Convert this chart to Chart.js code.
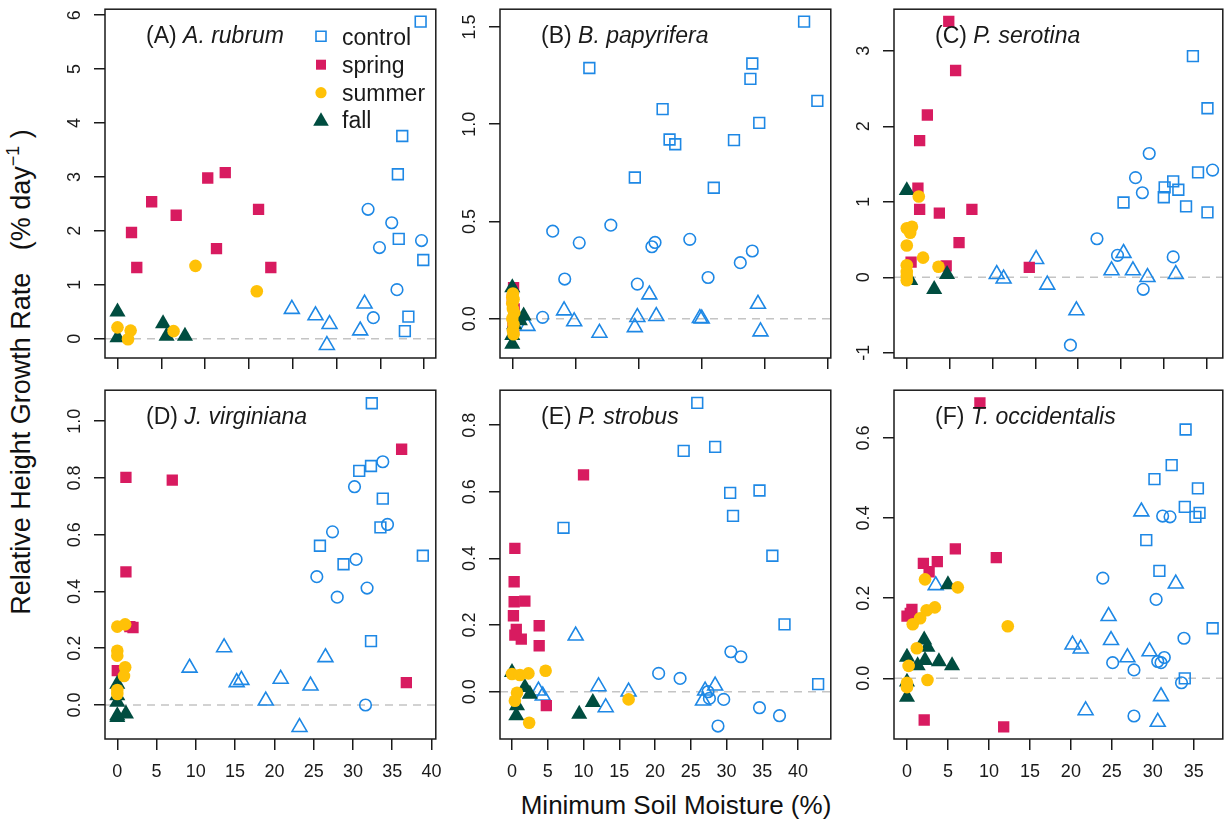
<!DOCTYPE html>
<html>
<head>
<meta charset="utf-8">
<script src="https://cdn.jsdelivr.net/npm/chart.js@4.4.1/dist/chart.umd.min.js"></script>
<style>
  html, body { margin: 0; padding: 0; background: #fff; }
  #wrap { position: relative; width: 1225px; height: 825px; overflow: hidden;
          font-family: "Liberation Sans", Arial, Helvetica, sans-serif; color: #111; }
  #wrap canvas { position: absolute; }
  #ytitle { position: absolute; left: 23px; top: 372px; white-space: nowrap; font-size: 27px; line-height: 27px;
            transform: translate(-50%, -50%) rotate(-90deg); }
  #ytitle .sup { font-size: 18px; position: relative; top: -11px; }
  #xtitle { position: absolute; left: 676px; top: 805px; white-space: nowrap; font-size: 26px; line-height: 26px;
            transform: translate(-50%, -50%); }
</style>
</head>
<body>
<div id="wrap">
  <div id="ytitle">Relative Height Growth Rate&nbsp;&nbsp;&nbsp;(% day<span class="sup">−1</span> )</div>
  <div id="xtitle">Minimum Soil Moisture (%)</div>
</div>
<script>
// ---- (A) A. rubrum ----
const aCtrlSq = [[34.6,5.88],[32.5,3.76],[32.0,3.05],[32.1,1.85],[34.9,1.46],[33.2,0.41],[32.8,0.14]];
const aCtrlCi = [[28.6,2.40],[31.3,2.15],[29.9,1.69],[34.7,1.82],[31.9,0.91],[29.2,0.39]];
const aCtrlTr = [[19.9,0.55],[22.6,0.43],[24.2,0.27],[23.9,-0.12],[28.2,0.65],[27.7,0.15]];
const aSpring = [[1.6,1.97],[2.2,1.32],[3.9,2.54],[6.7,2.29],[10.3,2.98],[12.3,3.08],[11.3,1.67],[16.1,2.40],[17.5,1.32]];
const aSummer = [[8.9,1.35],[15.9,0.88],[0.0,0.21],[1.5,0.15],[1.2,-0.01],[6.4,0.14]];
const aFall   = [[0.0,0.50],[0.0,0.02],[5.2,0.28],[5.6,0.05],[7.7,0.05]];

// ---- (B) B. papyrifera ----
const bCtrlSq = [[46.2,1.527],[12.2,1.289],[38.0,1.312],[37.7,1.233],[48.3,1.120],[23.8,1.077],[39.1,1.007],[24.9,0.921],[25.8,0.897],[35.1,0.918],[19.4,0.726],[31.9,0.673]];
const bCtrlCi = [[6.4,0.450],[10.6,0.390],[15.6,0.481],[8.3,0.204],[19.8,0.178],[22.1,0.370],[22.6,0.392],[28.1,0.408],[31.0,0.212],[36.1,0.288],[38.0,0.348],[4.8,0.007]];
const bCtrlTr = [[8.2,0.042],[9.8,-0.014],[13.8,-0.073],[2.4,-0.038],[19.8,0.008],[19.4,-0.044],[21.7,0.124],[22.8,0.013],[29.7,0.003],[30.0,0.0],[38.9,0.076],[39.3,-0.066]];
const bSpring = [[0.2,0.160],[0.0,0.100],[0.3,0.050],[0.1,-0.020],[0.2,-0.060]];
const bSummer = [[0.1,0.130],[0.2,0.100],[0.0,0.080],[0.1,0.050],[0.3,0.030],[0.0,0.000],[0.2,-0.030],[0.1,-0.060],[0.2,-0.080],[0.0,0.110]];
const bFall   = [[0.0,0.160],[0.0,-0.130],[1.8,0.015],[0.3,-0.030],[0.0,-0.085],[1.2,-0.010]];

// ---- (C) P. serotina ----
const cCtrlSq = [[33.4,2.93],[35.1,2.24],[34.0,1.39],[35.1,0.86],[25.3,0.99],[30.1,1.19],[30.0,1.06],[31.1,1.27],[31.7,1.16],[32.6,0.94]];
const cCtrlCi = [[28.3,1.64],[26.7,1.32],[27.5,1.12],[35.7,1.42],[22.2,0.51],[24.6,0.29],[31.1,0.27],[27.6,-0.16],[19.1,-0.90]];
const cCtrlTr = [[15.1,0.24],[10.5,0.04],[11.3,-0.02],[16.4,-0.10],[19.8,-0.44],[23.9,0.09],[25.3,0.32],[26.4,0.09],[28.1,0.00],[31.4,0.04]];
const cSpring = [[4.9,3.39],[5.7,2.74],[2.4,2.15],[1.5,1.81],[1.3,1.18],[1.5,0.90],[3.8,0.85],[7.6,0.90],[6.1,0.46],[0.5,0.20],[4.6,0.15],[14.3,0.13]];
const cSummer = [[1.4,1.07],[0.0,0.65],[0.6,0.67],[0.4,0.59],[0.0,0.42],[1.9,0.26],[3.7,0.14],[0.0,0.16],[0.0,0.07],[0.0,-0.04],[0.0,0.02]];
const cFall   = [[0.0,1.15],[0.4,-0.04],[3.2,-0.16],[4.7,0.04]];

// ---- (D) J. virginiana ----
const dCtrlSq = [[32.4,1.063],[30.8,0.825],[32.3,0.842],[33.8,0.727],[33.5,0.626],[25.8,0.561],[28.8,0.496],[38.9,0.526],[32.3,0.225]];
const dCtrlCi = [[30.2,0.769],[33.8,0.857],[27.4,0.610],[34.4,0.636],[30.4,0.513],[25.4,0.452],[28.0,0.380],[31.8,0.412],[31.6,0.000]];
const dCtrlTr = [[9.2,0.131],[13.6,0.203],[15.2,0.080],[15.8,0.088],[18.9,0.015],[20.8,0.092],[24.6,0.068],[26.5,0.168],[23.2,-0.078]];
const dSpring = [[1.1,0.802],[7.0,0.792],[1.1,0.469],[1.6,0.276],[2.0,0.273],[0.0,0.121],[36.2,0.901],[36.8,0.079]];
const dSummer = [[0.0,0.276],[1.0,0.284],[0.0,0.191],[0.0,0.174],[1.0,0.133],[0.85,0.102],[0.0,0.053],[0.0,0.039]];
const dFall   = [[0.0,0.074],[0.0,0.033],[0.0,0.010],[0.0,-0.037],[1.1,-0.031],[0.0,-0.043]];

// ---- (E) P. strobus ----
const eCtrlSq = [[25.9,0.867],[24.0,0.723],[28.4,0.735],[30.5,0.597],[34.6,0.604],[30.9,0.528],[36.4,0.408],[38.1,0.202],[42.8,0.023],[7.2,0.492]];
const eCtrlCi = [[20.5,0.055],[23.5,0.040],[30.6,0.120],[32.0,0.105],[29.6,-0.023],[27.6,-0.020],[34.6,-0.048],[37.4,-0.072],[28.8,-0.103],[27.4,0.000]];
const eCtrlTr = [[8.9,0.168],[12.1,0.016],[13.1,-0.047],[16.3,0.000],[3.7,0.003],[4.3,-0.012],[27.0,0.003],[28.4,0.018],[26.7,-0.027]];
const eSpring = [[0.4,0.430],[0.3,0.330],[0.3,0.270],[1.8,0.272],[0.2,0.228],[0.6,0.187],[1.3,0.158],[3.8,0.198],[3.8,0.138],[4.8,-0.042],[10.0,0.651],[0.4,0.170]];
const eSummer = [[0.0,0.053],[1.1,0.050],[2.3,0.055],[4.7,0.063],[0.7,-0.003],[0.4,-0.027],[2.4,-0.093],[16.3,-0.023]];
const eFall   = [[0.0,0.058],[1.8,0.013],[2.5,-0.007],[0.7,-0.042],[0.6,-0.072],[9.4,-0.067],[11.3,-0.032]];

// ---- (F) T. occidentalis ----
const fCtrlSq = [[34.0,0.621],[32.3,0.532],[30.2,0.497],[35.5,0.474],[33.9,0.428],[35.2,0.403],[35.7,0.413],[29.2,0.345],[30.8,0.268],[37.3,0.125],[33.9,0.000]];
const fCtrlCi = [[31.2,0.405],[32.1,0.403],[23.9,0.250],[30.4,0.197],[33.8,0.100],[25.1,0.039],[27.7,0.021],[30.6,0.042],[31.0,0.039],[31.4,0.052],[33.5,-0.011],[27.7,-0.094]];
const fCtrlTr = [[28.6,0.416],[32.8,0.236],[3.5,0.232],[24.6,0.155],[24.9,0.095],[20.2,0.084],[21.2,0.074],[26.9,0.052],[29.6,0.067],[31.0,-0.045],[21.8,-0.080],[30.6,-0.109]];
const fSpring = [[8.9,0.687],[10.9,0.301],[5.9,0.323],[3.7,0.291],[2.0,0.287],[2.7,0.266],[0.6,0.172],[0.0,0.155],[0.4,0.162],[2.1,-0.104],[11.8,-0.121]];
const fSummer = [[2.2,0.247],[6.2,0.227],[3.4,0.177],[2.4,0.170],[1.6,0.150],[0.7,0.135],[12.3,0.130],[1.2,0.075],[0.2,0.031],[2.5,-0.004],[0.0,-0.011],[0.0,-0.022]];
const fFall   = [[5.0,0.234],[2.1,0.096],[2.5,0.078],[0.0,0.053],[1.3,0.032],[2.2,0.045],[3.9,0.042],[5.5,0.032],[0.0,-0.009],[0.0,-0.047]];

// ---- axis ticks and labels ----
const ticks0to35 = [0,5,10,15,20,25,30,35];
const ticks0to40 = [0,5,10,15,20,25,30,35,40];
const ticksB     = [0,10,20,30,40,50];
const xLabels0to40 = ['0','5','10','15','20','25','30','35','40'];
const xLabels0to35 = ['0','5','10','15','20','25','30','35'];
const yTicksA = [0,1,2,3,4,5,6];       const yLabelsA = ['0','1','2','3','4','5','6'];
const yTicksB = [0,0.5,1,1.5];         const yLabelsB = ['0.0','0.5','1.0','1.5'];
const yTicksC = [-1,0,1,2,3];          const yLabelsC = ['-1','0','1','2','3'];
const yTicksD = [0,0.2,0.4,0.6,0.8,1]; const yLabelsD = ['0.0','0.2','0.4','0.6','0.8','1.0'];
const yTicksE = [0,0.2,0.4,0.6,0.8];   const yLabelsE = ['0.0','0.2','0.4','0.6','0.8'];
const yTicksF = [0,0.2,0.4,0.6];       const yLabelsF = ['0.0','0.2','0.4','0.6'];

const legendNames = ['control','spring','summer','fall'];

const BLUE = '#1E88E5', CRIMSON = '#D81B60', GOLD = '#FFC107', GREEN = '#004D40', INK = '#1a1a1a';
const FONT = '"Liberation Sans", Arial, Helvetica, sans-serif';

const panels = [
  { tag: '(A) ', sp: 'A. rubrum', box: [105, 9, 436, 358], x: [-1.426, 36.33], y: [-0.358, 6.111],
    xt: ticks0to35, xl: null, yt: yTicksA, yl: yLabelsA, legend: true,
    s: [aCtrlSq, aCtrlCi, aCtrlTr, aSpring, aSummer, aFall] },
  { tag: '(B) ', sp: 'B. papyrifera', box: [500, 9, 831, 358], x: [-1.946, 50.43], y: [-0.2019, 1.591],
    xt: ticksB, xl: null, yt: yTicksB, yl: yLabelsB,
    s: [bCtrlSq, bCtrlCi, bCtrlTr, bSpring, bSummer, bFall] },
  { tag: '(C) ', sp: 'P. serotina', box: [894, 9, 1223, 358], x: [-1.493, 36.89], y: [-1.070, 3.552],
    xt: ticks0to35, xl: null, yt: yTicksC, yl: yLabelsC,
    s: [cCtrlSq, cCtrlCi, cCtrlTr, cSpring, cSummer, cFall] },
  { tag: '(D) ', sp: 'J. virginiana', box: [105, 390, 436, 739], x: [-1.565, 40.55], y: [-0.1197, 1.109],
    xt: ticks0to40, xl: xLabels0to40, yt: yTicksD, yl: yLabelsD,
    s: [dCtrlSq, dCtrlCi, dCtrlTr, dSpring, dSummer, dFall] },
  { tag: '(E) ', sp: 'P. strobus', box: [500, 390, 831, 739], x: [-1.677, 44.57], y: [-0.1419, 0.905],
    xt: ticks0to40, xl: xLabels0to40, yt: yTicksE, yl: yLabelsE,
    s: [eCtrlSq, eCtrlCi, eCtrlTr, eSpring, eSummer, eFall] },
  { tag: '(F) ', sp: 'T. occidentalis', box: [894, 390, 1223, 739], x: [-1.585, 38.54], y: [-0.1514, 0.719],
    xt: ticks0to35, xl: xLabels0to35, yt: yTicksF, yl: yLabelsF,
    s: [fCtrlSq, fCtrlCi, fCtrlTr, fSpring, fSummer, fFall] }
];

const PAD_T = 10, PAD_R = 10, Y_W = 70, X_H = 50;

function toPts(arr) { return arr.map(([x, y]) => ({ x, y })); }

// small marker painter for the legend
function marker(ctx, kind, cx, cy, fill, stroke) {
  ctx.beginPath();
  if (kind === 'sq') { ctx.rect(cx - 5, cy - 5, 10, 10); }
  else if (kind === 'ci') { ctx.arc(cx, cy, 5.6, 0, Math.PI * 2); }
  else { const r = 9; ctx.moveTo(cx, cy - r); ctx.lineTo(cx + 0.866 * r, cy + 0.5 * r); ctx.lineTo(cx - 0.866 * r, cy + 0.5 * r); ctx.closePath(); }
  if (fill) { ctx.fillStyle = fill; ctx.fill(); }
  if (stroke) { ctx.strokeStyle = stroke; ctx.lineWidth = 1.6; ctx.stroke(); }
}

function framePlugin(p) {
  return {
    id: 'frame',
    beforeDatasetsDraw(chart) {
      const { ctx, chartArea: a, scales } = chart;
      const y0 = scales.y.getPixelForValue(0);
      ctx.save();
      ctx.strokeStyle = '#c4c4c4';
      ctx.lineWidth = 1.5;
      ctx.setLineDash([8, 6]);
      ctx.beginPath();
      ctx.moveTo(a.left, y0);
      ctx.lineTo(a.right, y0);
      ctx.stroke();
      ctx.restore();
    },
    afterDraw(chart) {
      const { ctx, chartArea: a, scales } = chart;
      ctx.save();
      ctx.strokeStyle = INK;
      ctx.lineWidth = 1.5;
      ctx.strokeRect(a.left, a.top, a.right - a.left, a.bottom - a.top);

      ctx.fillStyle = INK;
      ctx.font = '18px ' + FONT;
      ctx.textAlign = 'center';
      ctx.textBaseline = 'middle';
      p.yt.forEach((v, i) => {
        ctx.save();
        ctx.translate(a.left - 30, scales.y.getPixelForValue(v));
        ctx.rotate(-Math.PI / 2);
        ctx.fillText(p.yl[i], 0, 0);
        ctx.restore();
      });
      if (p.xl) {
        p.xt.forEach((v, i) => ctx.fillText(p.xl[i], scales.x.getPixelForValue(v), a.bottom + 33));
      }

      // panel heading: letter upright, species name in italics
      ctx.textAlign = 'left';
      ctx.textBaseline = 'alphabetic';
      ctx.font = '23px ' + FONT;
      const tx = a.left + 41, ty = a.top + 34;
      ctx.fillText(p.tag, tx, ty);
      const w = ctx.measureText(p.tag).width;
      ctx.font = 'italic 23px ' + FONT;
      ctx.fillText(p.sp, tx + w, ty);

      if (p.legend) {
        const mx = a.left + 216, lx = a.left + 237;
        const rows = [a.top + 27, a.top + 55.5, a.top + 83.5, a.top + 110.5];
        marker(ctx, 'sq', mx, rows[0], null, BLUE);
        marker(ctx, 'sq', mx, rows[1], CRIMSON, null);
        marker(ctx, 'ci', mx, rows[2], GOLD, null);
        marker(ctx, 'tr', mx, rows[3] + 1.5, GREEN, null);
        ctx.fillStyle = INK;
        ctx.font = '23px ' + FONT;
        legendNames.forEach((t, i) => ctx.fillText(t, lx, rows[i] + 8.3));
      }
      ctx.restore();
    }
  };
}

const wrap = document.getElementById('wrap');
panels.forEach((p) => {
  const [L, T, R, B] = p.box;
  const cw = (R - L) + Y_W + PAD_R, ch = (B - T) + PAD_T + X_H;
  const cv = document.createElement('canvas');
  cv.width = cw; cv.height = ch;
  cv.style.left = (L - Y_W) + 'px';
  cv.style.top = (T - PAD_T) + 'px';
  cv.style.width = cw + 'px'; cv.style.height = ch + 'px';
  wrap.appendChild(cv);

  const open = { backgroundColor: 'rgba(0,0,0,0)', borderColor: BLUE, borderWidth: 1.6, order: 4 };
  const datasets = [
    Object.assign({ label: 'control', data: toPts(p.s[0]), pointStyle: 'rect', pointRadius: 7.6 }, open),
    Object.assign({ label: 'control', data: toPts(p.s[1]), pointStyle: 'circle', pointRadius: 5.8 }, open),
    Object.assign({ label: 'control', data: toPts(p.s[2]), pointStyle: 'triangle', pointRadius: 8.6 }, open),
    { label: 'spring', data: toPts(p.s[3]), pointStyle: 'rect', pointRadius: 8.0, backgroundColor: CRIMSON, borderWidth: 0, order: 3 },
    { label: 'summer', data: toPts(p.s[4]), pointStyle: 'circle', pointRadius: 6.3, backgroundColor: GOLD, borderWidth: 0, order: 1 },
    { label: 'fall', data: toPts(p.s[5]), pointStyle: 'triangle', pointRadius: 9.3, backgroundColor: GREEN, borderWidth: 0, order: 2 }
  ];
  datasets.forEach(d => { d.pointHoverRadius = d.pointRadius; d.borderColor = d.borderColor || d.backgroundColor; });

  const axisCommon = {
    type: 'linear',
    border: { display: false },
    grid: { display: true, drawOnChartArea: false, drawTicks: true, tickLength: 11, color: INK, lineWidth: 1.5 },
    ticks: { display: false }
  };

  new Chart(cv, {
    type: 'scatter',
    data: { datasets },
    options: {
      responsive: false,
      animation: false,
      devicePixelRatio: 1,
      events: [],
      layout: { padding: { left: 0, top: PAD_T, right: PAD_R, bottom: 0 } },
      plugins: { legend: { display: false }, tooltip: { enabled: false } },
      scales: {
        x: Object.assign({}, axisCommon, {
          position: 'bottom', min: p.x[0], max: p.x[1],
          afterBuildTicks: (s) => { s.ticks = p.xt.map(v => ({ value: v })); },
          afterFit: (s) => { s.height = X_H; }
        }),
        y: Object.assign({}, axisCommon, {
          position: 'left', min: p.y[0], max: p.y[1],
          afterBuildTicks: (s) => { s.ticks = p.yt.map(v => ({ value: v })); },
          afterFit: (s) => { s.width = Y_W; }
        })
      }
    },
    plugins: [framePlugin(p)]
  });
});
</script>
</body>
</html>
